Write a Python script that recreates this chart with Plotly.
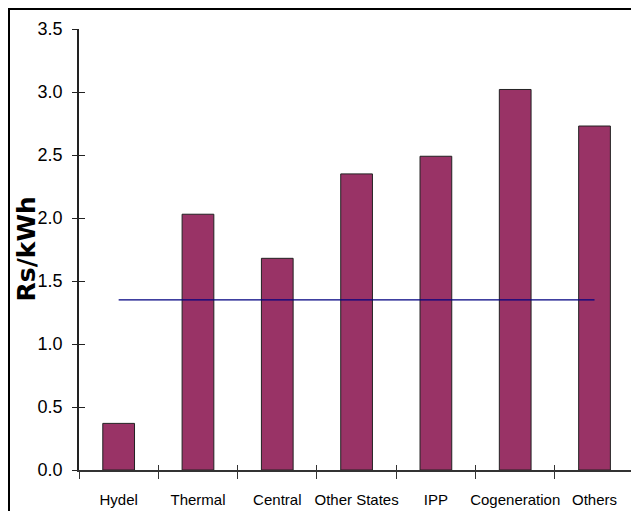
import plotly.graph_objects as go

# Average cost of power purchase by source (Rs/kWh)
categories = ["Hydel", "Thermal", "Central", "Other States", "IPP", "Cogeneration", "Others"]
cost_rs_per_kwh = [0.37, 2.03, 1.68, 2.35, 2.49, 3.02, 2.73]
average_cost = 1.35
y_tick_values = [0.0, 0.5, 1.0, 1.5, 2.0, 2.5, 3.0, 3.5]
y_tick_labels = ["0.0", "0.5", "1.0", "1.5", "2.0", "2.5", "3.0", "3.5"]

W, H = 631, 511
ML, MR, MT, MB = 79, 0, 29, 41
plot_w = W - ML - MR
plot_h = H - MT - MB

BAR_COLOR = "#993366"
LABEL_FONT = dict(family="Liberation Sans, Arial", size=15, color="#000000")
x_range = [-0.5, 6.46]
y_range = [0, 3.5]

fig = go.Figure()

fig.add_trace(go.Bar(
    x=categories, y=cost_rs_per_kwh,
    width=0.4,
    marker=dict(color=BAR_COLOR, line=dict(color="#222222", width=1)),
    hoverinfo="x+y", showlegend=False,
))

# average line across the sources
fig.add_trace(go.Scatter(
    x=[categories[0], categories[-1]], y=[average_cost, average_cost],
    mode="lines", line=dict(color="#000080", width=1.2),
    hoverinfo="skip", showlegend=False,
))

# invisible copy on the overlay axes so inner tick marks are drawn
fig.add_trace(go.Bar(
    x=categories, y=cost_rs_per_kwh, xaxis="x2", yaxis="y2",
    width=0.4, opacity=0, hoverinfo="skip", showlegend=False,
))

common_x = dict(type="category", categoryorder="array", categoryarray=categories,
                range=x_range, fixedrange=True, automargin=False)

fig.update_layout(
    width=W, height=H,
    margin=dict(l=ML, r=MR, t=MT, b=MB),
    paper_bgcolor="white", plot_bgcolor="white",
    bargap=0.6,
    xaxis=dict(
        **common_x,
        showline=True, linecolor="#333333", linewidth=1.5,
        ticks="outside", ticklen=7, tickcolor="#333333", tickwidth=1,
        tickson="boundaries", tickangle=0,
        ticklabelstandoff=15,
        showgrid=False, zeroline=False,
        tickfont=LABEL_FONT,
    ),
    yaxis=dict(
        range=y_range, tickvals=y_tick_values, ticktext=y_tick_labels,
        showline=True, linecolor="#222222", linewidth=1.5,
        ticks="outside", ticklen=5, tickcolor="#222222", tickwidth=1,
        ticklabelstandoff=6,
        showgrid=False, zeroline=False, automargin=False,
        tickfont=dict(LABEL_FONT, size=18),
        fixedrange=True,
    ),
    xaxis2=dict(
        **common_x, overlaying="x", anchor="y2", side="bottom",
        showline=False, ticks="inside", ticklen=5, tickcolor="#333333", tickwidth=1,
        tickson="boundaries", showticklabels=False, showgrid=False, zeroline=False,
    ),
    yaxis2=dict(
        range=y_range, tickvals=y_tick_values, overlaying="y", anchor="x2", side="left",
        showline=False, ticks="inside", ticklen=6, tickcolor="#222222", tickwidth=1,
        showticklabels=False, showgrid=False, zeroline=False, fixedrange=True, automargin=False,
    ),
    xaxis3=dict(
        range=x_range, overlaying="x", anchor="y", side="top",
        showline=True, linecolor="#999999", linewidth=1.5, automargin=False,
        ticks="", showticklabels=False, showgrid=False, zeroline=False, fixedrange=True,
    ),
)

# y-axis title
fig.add_annotation(
    text="<b>Rs/kWh</b>", textangle=-90,
    xref="paper", yref="paper", x=(26 - ML) / plot_w, y=0.5,
    xanchor="center", yanchor="middle", showarrow=False,
    font=dict(family="DejaVu Sans", size=25, color="#000000"),
)

# outer chart frame
fig.add_shape(
    type="rect", xref="paper", yref="paper",
    x0=(9 - ML) / plot_w, x1=1.1,
    y0=-0.2, y1=(MT + plot_h - 9) / plot_h,
    line=dict(color="#000000", width=2), fillcolor="rgba(0,0,0,0)", layer="above",
)

fig.write_html("out.html")
